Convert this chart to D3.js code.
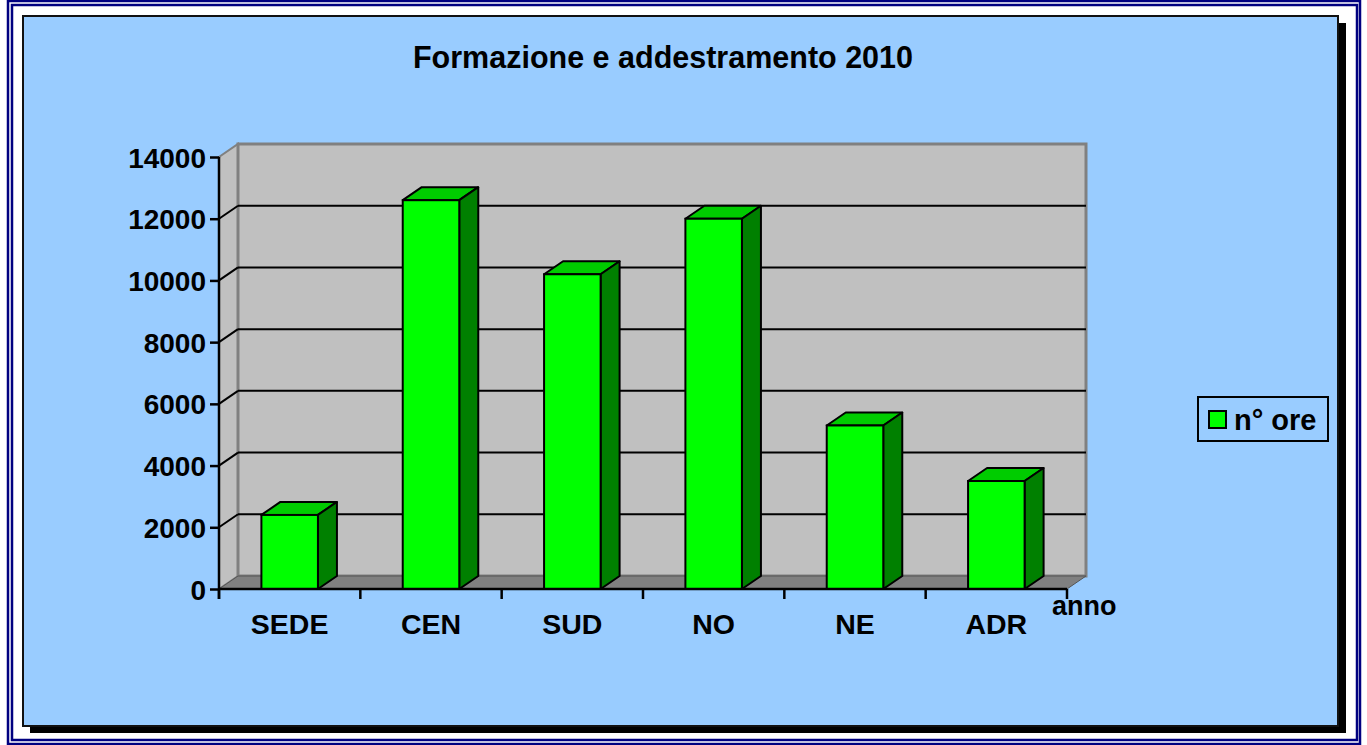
<!DOCTYPE html>
<html><head><meta charset="utf-8">
<script src="https://cdnjs.cloudflare.com/ajax/libs/d3/7.8.5/d3.min.js"></script>
<style>html,body{margin:0;padding:0;background:#fff;}svg{display:block;font-family:"Liberation Sans",Arial,sans-serif;}</style>
</head><body>
<script>
const categories = ["SEDE","CEN","SUD","NO","NE","ADR"];
const values = [2400, 12600, 10200, 12000, 5300, 3500];
const yTicks = [0,2000,4000,6000,8000,10000,12000,14000];
const title = "Formazione e addestramento 2010";
const seriesName = "n° ore";
const axisTitle = "anno";

const W = 1367, H = 745;
const svg = d3.select("body").append("svg").attr("width", W).attr("height", H);

// outer double frame
svg.append("rect").attr("x",8).attr("y",1).attr("width",1352).attr("height",743)
  .attr("fill","none").attr("stroke","#000080").attr("stroke-width",2.5);
svg.append("rect").attr("x",12).attr("y",5).attr("width",1345).attr("height",735)
  .attr("fill","none").attr("stroke","#000080").attr("stroke-width",2.5);

// chart area with shadow
svg.append("rect").attr("x",30).attr("y",23).attr("width",1316).attr("height",710).attr("fill","#000");
svg.append("rect").attr("x",23).attr("y",16).attr("width",1315).attr("height",710)
  .attr("fill","#99CCFF").attr("stroke","#111").attr("stroke-width",2);

// scales
const x0 = 219, x1 = 1067;
const x = d3.scaleBand().domain(categories).range([x0, x1]).padding(0);
const y = d3.scaleLinear().domain([0,14000]).range([589,157]);
const DX = 19, DY = -13;

const g = svg.append("g");
const yTop = y(14000), yBot = y(0);

// side wall
g.append("polygon")
  .attr("points", [[x0,yBot],[x0,yTop],[x0+DX,yTop+DY],[x0+DX,yBot+DY]].map(p=>p.join(",")).join(" "))
  .attr("fill","#C0C0C0").attr("stroke","#808080").attr("stroke-width",2);
// back wall
g.append("rect").attr("x",x0+DX).attr("y",yTop+DY).attr("width",x1-x0).attr("height",yBot-yTop)
  .attr("fill","#C0C0C0").attr("stroke","#808080").attr("stroke-width",3);
// floor
g.append("polygon")
  .attr("points", [[x0,yBot],[x1,yBot],[x1+DX,yBot+DY],[x0+DX,yBot+DY]].map(p=>p.join(",")).join(" "))
  .attr("fill","#808080").attr("stroke","#555").attr("stroke-width",1);

// gridlines
const grid = yTicks.filter(t => t>0 && t<14000);
g.selectAll(".gb").data(grid).enter().append("line")
  .attr("x1",x0+DX).attr("x2",x1+DX).attr("y1",d=>y(d)+DY).attr("y2",d=>y(d)+DY)
  .attr("stroke","#000").attr("stroke-width",2);
g.selectAll(".gs").data(grid).enter().append("line")
  .attr("x1",x0).attr("x2",x0+DX).attr("y1",d=>y(d)).attr("y2",d=>y(d)+DY)
  .attr("stroke","#000").attr("stroke-width",2);

// bars
const bw = x.bandwidth()*0.4;
const bars = g.selectAll(".bar").data(categories.map((c,i)=>({c, v: values[i]}))).enter().append("g");
bars.each(function(d){
  const sel = d3.select(this);
  const bx = x(d.c) + (x.bandwidth()-bw)/2;
  const top = y(d.v), bot = y(0);
  sel.append("polygon").attr("points",[[bx,top],[bx+bw,top],[bx+bw+DX,top+DY],[bx+DX,top+DY]].map(p=>p.join(",")).join(" "))
    .attr("fill","#00CC00").attr("stroke","#000").attr("stroke-width",2).attr("stroke-linejoin","round");
  sel.append("polygon").attr("points",[[bx+bw,top],[bx+bw+DX,top+DY],[bx+bw+DX,bot+DY],[bx+bw,bot]].map(p=>p.join(",")).join(" "))
    .attr("fill","#008000").attr("stroke","#000").attr("stroke-width",2).attr("stroke-linejoin","round");
  sel.append("rect").attr("x",bx).attr("y",top).attr("width",bw).attr("height",bot-top)
    .attr("fill","#00FF00").attr("stroke","#000").attr("stroke-width",2);
});

// y axis
const yAxis = d3.axisLeft(y).tickValues(yTicks).tickSize(9).tickPadding(4).tickFormat(d3.format("d"));
const ya = svg.append("g").attr("transform",`translate(${x0},0)`).call(yAxis);
ya.select(".domain").attr("stroke","#000").attr("stroke-width",2.5).attr("d",`M0,${yTop}V${yBot+10}`);
ya.selectAll(".tick line").attr("stroke","#000").attr("stroke-width",2.5);
ya.selectAll(".tick text").attr("font-size",28).attr("font-weight","bold").attr("fill","#000")
  .attr("font-family","'Liberation Sans',Arial,sans-serif").attr("dy","0.36em");

// x axis
const xa = svg.append("g").attr("transform",`translate(0,${yBot})`);
xa.append("line").attr("x1",x0).attr("x2",x1).attr("y1",0).attr("y2",0).attr("stroke","#000").attr("stroke-width",2.5);
const bounds = categories.map(c=>x(c)).concat([x1]);
xa.selectAll(".xt").data(bounds).enter().append("line")
  .attr("x1",d=>d).attr("x2",d=>d).attr("y1",0).attr("y2",10).attr("stroke","#000").attr("stroke-width",2.5);
xa.selectAll(".xl").data(categories).enter().append("text")
  .attr("x",d=>x(d)+x.bandwidth()/2).attr("y",45).attr("text-anchor","middle")
  .attr("font-size",28.5).attr("font-weight","bold").attr("fill","#000").text(d=>d);
svg.append("text").attr("x",1052).attr("y",615).attr("font-size",27).attr("font-weight","bold").attr("fill","#000").text(axisTitle);

// title
svg.append("text").attr("x",663).attr("y",68).attr("text-anchor","middle")
  .attr("font-size",30.5).attr("font-weight","bold").attr("fill","#000").text(title);

// legend
const lg = svg.append("g");
lg.append("rect").attr("x",1198).attr("y",397).attr("width",130).attr("height",44)
  .attr("fill","#99CCFF").attr("stroke","#000").attr("stroke-width",2);
lg.append("rect").attr("x",1209).attr("y",411).attr("width",17).attr("height",17)
  .attr("fill","#00FF00").attr("stroke","#000").attr("stroke-width",2);
lg.append("text").attr("x",1234).attr("y",430).attr("font-size",29).attr("font-weight","bold").attr("fill","#000").text(seriesName);
</script>
</body></html>
